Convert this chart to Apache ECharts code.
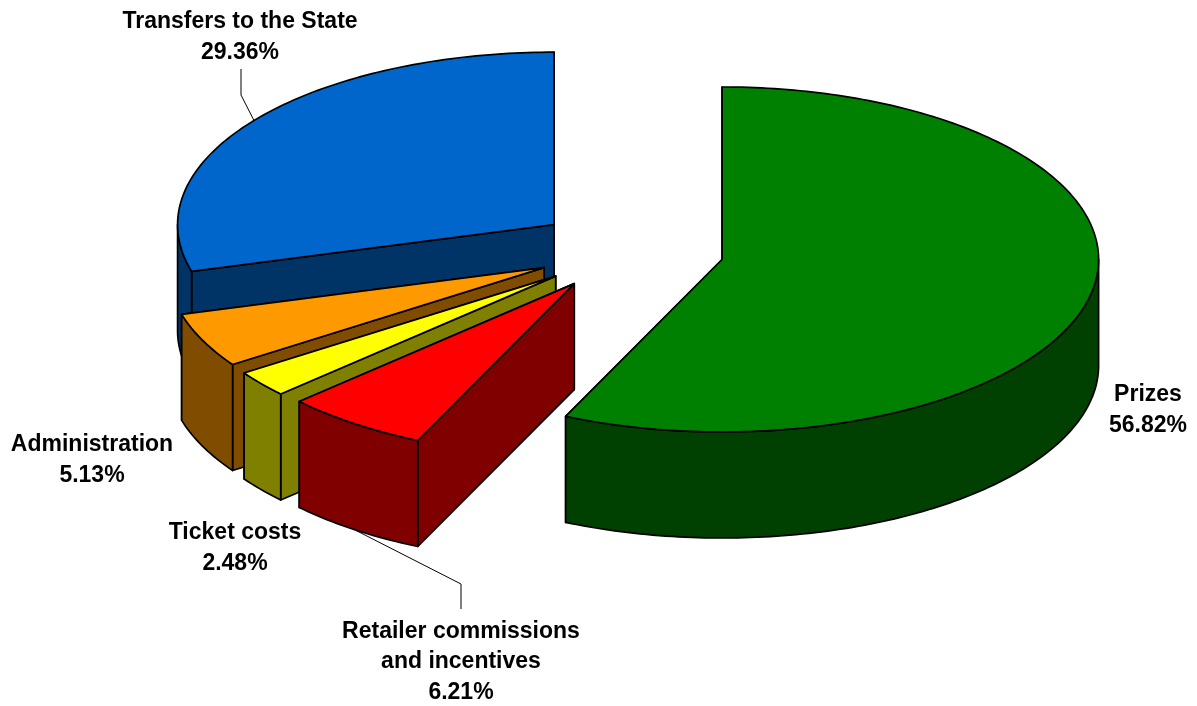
<!DOCTYPE html>
<html>
<head>
<meta charset="utf-8">
<style>html,body{margin:0;padding:0;background:#fff}#chart{width:1197px;height:706px}</style>
<script src="https://cdn.jsdelivr.net/npm/echarts@6/dist/echarts.min.js"></script>
</head>
<body>
<div id="chart"></div>
<script>
// Data, clockwise from twelve o'clock
const categories = ['Prizes', 'Retailer commissions\nand incentives', 'Ticket costs', 'Administration', 'Transfers to the State'];
const shares = [56.82, 6.21, 2.48, 5.13, 29.36];

// Styles
const topColors = ['#008000', '#FF0000', '#FFFF00', '#FF9900', '#0066CC'];
const sideColors = ['#004000', '#800000', '#808000', '#804C00', '#003366'];

// Layout of the tilted pie
const pieCenter = [627, 250];
const radiusX = 376.5, radiusY = 172.5, depth = 106;
const explode = [0.2585, 0.24, 0.2425, 0.2427, 0.243];
const labelAnchors = [[1148, 410], [461, 662], [235, 548], [92, 460], [240, 37]];
const leaderBends = [null, [[461, 584], [461, 609]], null, null, [[241, 95], [241, 69]]];

const FULL = shares.reduce((a, b) => a + b, 0);
const rad = d => d * Math.PI / 180;
const rim = (c, a, dz) => [c[0] + radiusX * Math.sin(a), c[1] - radiusY * Math.cos(a) + (dz || 0)];
function arc(c, a0, a1, dz) {
  const n = Math.max(2, Math.ceil(Math.abs(a1 - a0) / rad(1)));
  const pts = [];
  for (let i = 0; i <= n; i++) pts.push(rim(c, a0 + (a1 - a0) * i / n, dz));
  return pts;
}
const edge = { stroke: '#000', lineWidth: 1.7, lineJoin: 'round' };
function poly(points, fill) {
  return { type: 'polygon', shape: { points }, style: Object.assign({ fill }, edge), silent: true };
}

// Rows run clockwise: [share, cumulative share before it, original index]; painted back to front
let running = 0;
const rows = shares.map((v, i) => { const r = [v, running, i]; running += v; return r; }).reverse();

function renderItem(params, api) {
  const value = api.value(0), before = api.value(1), idx = api.value(2);
  const a0 = rad(before / FULL * 360), a1 = rad((before + value) / FULL * 360), mid = (a0 + a1) / 2;
  const c = rim(pieCenter, mid, 0);
  const apex = [pieCenter[0] + (c[0] - pieCenter[0]) * explode[idx], pieCenter[1] + (c[1] - pieCenter[1]) * explode[idx]];
  const top = topColors[idx], side = sideColors[idx];
  const kids = [];
  const cut = a => {
    const p = rim(apex, a, 0);
    return poly([apex, p, [p[0], p[1] + depth], [apex[0], apex[1] + depth]], side);
  };
  kids.push(cut(a1), cut(a0));
  const w0 = Math.max(a0, rad(90)), w1 = Math.min(a1, rad(270));
  if (w1 > w0) kids.push(poly(arc(apex, w0, w1, 0).concat(arc(apex, w1, w0, depth)), side));
  kids.push(poly([apex].concat(arc(apex, a0, a1, 0)), top));
  const bends = leaderBends[idx];
  if (bends) {
    const inFront = Math.cos(mid) < 0;
    const start = rim(apex, mid, inFront ? depth : 0);
    kids.push({ type: 'polyline', shape: { points: [start].concat(bends) }, style: { stroke: '#000', lineWidth: 1, fill: null }, silent: true });
  }
  const anchor = labelAnchors[idx];
  kids.push({
    type: 'text', silent: true,
    style: {
      x: anchor[0], y: anchor[1], align: 'center', verticalAlign: 'middle',
      text: categories[idx] + '\n' + value.toFixed(2) + '%',
      fontFamily: '"Liberation Sans", Arial, sans-serif', fontWeight: 'bold', fontSize: 23, lineHeight: 30.5, fill: '#000'
    }
  });
  return { type: 'group', children: kids };
}

const chart = echarts.init(document.getElementById('chart'), null, { renderer: 'canvas' });
chart.setOption({
  animation: false,
  backgroundColor: '#fff',
  series: [{ type: 'custom', coordinateSystem: 'none', renderItem, data: rows, silent: true }]
});
</script>
</body>
</html>
